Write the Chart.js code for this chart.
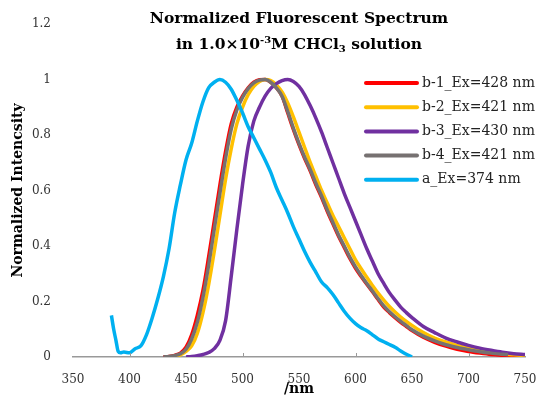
<!DOCTYPE html>
<html>
<head>
<meta charset="utf-8">
<script src="https://cdn.jsdelivr.net/npm/chart.js@4.4.1/dist/chart.umd.min.js"></script>
<style>
  html, body { margin: 0; padding: 0; background: #fff; }
  #wrap { width: 540px; height: 398px; }
</style>
</head>
<body>
<div id="wrap"><canvas id="Graph_Spectrum" width="540" height="398"></canvas></div>
<script>
// wavelengths (nm) and normalized intensities
var wl_b1 = [430,435,440,445,450,455,460,465,470,475,480,485,490,495,500,505,510,515,520,525,530,535,540,545,550,555,560,565,570,575,580,585,590,595,600,605,610,615,620,625,630,635,640,645,650,660,670,680,690,700,710,720,730,740,750];
var int_b1 = [0,0.002,0.006,0.014,0.035,0.08,0.15,0.24,0.36,0.49,0.62,0.74,0.84,0.9,0.94,0.97,0.99,0.999,1.0,0.99,0.97,0.94,0.88,0.82,0.765,0.715,0.67,0.62,0.575,0.525,0.48,0.435,0.395,0.355,0.32,0.29,0.262,0.235,0.207,0.18,0.16,0.142,0.125,0.11,0.095,0.071,0.053,0.039,0.028,0.02,0.014,0.009,0.006,0.004,0.002];

var wl_b2 = [435,440,445,450,455,460,465,470,475,480,485,490,495,500,505,510,515,520,525,530,535,540,545,550,555,560,565,570,575,580,585,590,595,600,605,610,615,620,625,630,635,640,645,650,660,670,680,690,700,710,720,730,740,750];
var int_b2 = [0,0.002,0.008,0.02,0.04,0.085,0.16,0.26,0.38,0.51,0.64,0.75,0.84,0.9,0.945,0.975,0.993,1.0,0.996,0.98,0.955,0.915,0.865,0.81,0.755,0.70,0.65,0.60,0.555,0.51,0.47,0.43,0.39,0.35,0.318,0.287,0.258,0.23,0.205,0.182,0.162,0.144,0.128,0.114,0.088,0.068,0.054,0.042,0.032,0.024,0.017,0.012,0.008,0.006];

var wl_b3 = [450,455,460,465,470,475,480,485,490,495,500,505,510,515,520,525,530,535,540,545,550,555,560,565,570,575,580,585,590,595,600,605,610,615,620,625,630,635,640,645,650,660,670,680,690,700,710,720,730,740,750];
var int_b3 = [0,0.002,0.005,0.009,0.016,0.03,0.06,0.13,0.29,0.46,0.62,0.76,0.85,0.9,0.94,0.968,0.985,0.996,1.0,0.993,0.975,0.945,0.905,0.86,0.81,0.755,0.70,0.645,0.59,0.54,0.49,0.44,0.39,0.345,0.30,0.265,0.232,0.205,0.18,0.16,0.142,0.11,0.088,0.068,0.054,0.042,0.032,0.024,0.017,0.012,0.009];

var wl_b4 = [430,435,440,445,450,455,460,465,470,475,480,485,490,495,500,505,510,515,520,525,530,535,540,545,550,555,560,565,570,575,580,585,590,595,600,605,610,615,620,625,630,635,640,645,650,660,670,680,690,700,710,720,730,735];
var int_b4 = [0,0.002,0.005,0.012,0.028,0.065,0.125,0.215,0.33,0.46,0.59,0.715,0.82,0.89,0.935,0.967,0.988,0.998,1.0,0.99,0.97,0.94,0.885,0.825,0.77,0.72,0.675,0.625,0.58,0.53,0.485,0.44,0.4,0.36,0.325,0.294,0.265,0.238,0.21,0.184,0.163,0.145,0.128,0.113,0.098,0.075,0.058,0.044,0.034,0.026,0.019,0.014,0.01,0.009];

var wl_a = [384,386,388,390,392,395,400,405,410,415,420,425,430,435,440,445,450,455,460,465,470,475,480,485,490,495,500,505,510,515,520,525,530,535,540,545,550,555,560,565,570,575,580,585,590,595,600,605,610,615,620,625,630,635,640,645,650];
var int_a = [0.15,0.10,0.06,0.02,0.015,0.018,0.015,0.03,0.04,0.08,0.14,0.21,0.29,0.39,0.52,0.62,0.71,0.77,0.85,0.92,0.97,0.99,1.0,0.99,0.965,0.925,0.88,0.83,0.79,0.75,0.71,0.665,0.61,0.565,0.52,0.47,0.425,0.38,0.34,0.305,0.27,0.25,0.225,0.195,0.165,0.14,0.12,0.105,0.095,0.08,0.065,0.055,0.045,0.035,0.022,0.01,0];

var seriesLabels = ["b-1_Ex=428 nm", "b-2_Ex=421 nm", "b-3_Ex=430 nm", "b-4_Ex=421 nm", "a_Ex=374 nm"];
var seriesColors = ["#FF0000", "#FFC000", "#7030A0", "#767171", "#00B0F0"];
var seriesX = [wl_b1, wl_b2, wl_b3, wl_b4, wl_a];
var seriesY = [int_b1, int_b2, int_b3, int_b4, int_a];

var xTickMarks = [400, 500, 600, 700];
var titleLine1 = "Normalized Fluorescent Spectrum";
// second title line: [text, 0 normal / 1 superscript / -1 subscript]
var titleLine2 = [["in 1.0\u00d710", 0], ["-3", 1], ["M CHCl", 0], ["3", -1], [" solution", 0]];

var serif = "'DejaVu Serif', 'Liberation Serif', serif";

function makePoints(xs, ys) {
    var pts = [];
    for (var i = 0; i < xs.length; i++) {
        pts.push({ x: xs[i], y: ys[i] });
    }
    return pts;
}

var datasets = [];
for (var i = 0; i < seriesLabels.length; i++) {
    datasets.push({
        label: seriesLabels[i],
        data: makePoints(seriesX[i], seriesY[i]),
        borderColor: seriesColors[i],
        backgroundColor: seriesColors[i],
        borderWidth: 3.5,
        pointRadius: 0,
        showLine: true,
        cubicInterpolationMode: "monotone",
        order: seriesLabels.length - i   // later series drawn on top, like the original
    });
}

var bigFont = "bold 15.5px " + serif;
var smallFont = "bold 10px " + serif;

function drawRichLine(ctx, parts, cx, y) {
    var total = 0;
    parts.forEach(function (p) {
        ctx.font = p[1] === 0 ? bigFont : smallFont;
        total += ctx.measureText(p[0]).width;
    });
    var x = cx - total / 2;
    parts.forEach(function (p) {
        ctx.font = p[1] === 0 ? bigFont : smallFont;
        var dy = p[1] === 1 ? -5 : (p[1] === -1 ? 4 : 0);
        ctx.fillText(p[0], x, y + dy);
        x += ctx.measureText(p[0]).width;
    });
}

// title inside the plot, inner tick marks and the legend box on the right
var extrasPlugin = {
    id: "extras",
    afterDraw: function (chart) {
        var ctx = chart.ctx;
        var ca = chart.chartArea;
        var xs = chart.scales.x;
        ctx.save();

        ctx.strokeStyle = "#999999";
        ctx.lineWidth = 1;
        xTickMarks.forEach(function (v) {
            var px = Math.round(xs.getPixelForValue(v)) + 0.5;
            ctx.beginPath();
            ctx.moveTo(px, ca.bottom);
            ctx.lineTo(px, ca.bottom - 4);
            ctx.stroke();
        });

        ctx.fillStyle = "#000";
        ctx.textAlign = "center";
        ctx.textBaseline = "middle";
        ctx.font = bigFont;
        var cx = (ca.left + ca.right) / 2;
        ctx.fillText(titleLine1, cx, 19);
        ctx.textAlign = "left";
        drawRichLine(ctx, titleLine2, cx, 45);

        ctx.font = "14px " + serif;
        for (var i = 0; i < chart.data.datasets.length; i++) {
            var ds = chart.data.datasets[i];
            var ly = 83 + i * 24.2;
            ctx.strokeStyle = ds.borderColor;
            ctx.lineWidth = 4;
            ctx.lineCap = "round";
            ctx.beginPath();
            ctx.moveTo(366, ly);
            ctx.lineTo(417, ly);
            ctx.stroke();
            ctx.fillStyle = "#222";
            ctx.fillText(ds.label, 422, ly);
        }
        ctx.restore();
    }
};

var ctx = document.getElementById("Graph_Spectrum").getContext("2d");
var graph = new Chart(ctx, {
    type: "scatter",
    data: { datasets: datasets },
    options: {
        responsive: false,
        animation: false,
        layout: { padding: { top: 24, right: 15, left: 0, bottom: 0 } },
        plugins: {
            legend: { display: false },
            tooltip: { enabled: false },
            title: { display: false }
        },
        scales: {
            x: {
                type: "linear",
                min: 350,
                max: 750,
                afterFit: function (s) {
                    s.height = 41;
                    s.paddingLeft = 0;
                    s.paddingRight = 0;
                },
                ticks: {
                    stepSize: 50,
                    padding: 16,
                    color: "#333",
                    font: { family: serif, size: 12 }
                },
                grid: { display: false, drawTicks: false },
                border: { display: true, color: "#999999", width: 1.5 },
                title: {
                    display: true,
                    text: "/nm",
                    color: "#000",
                    padding: { top: 0, bottom: 0 },
                    font: { family: serif, size: 14, weight: "bold" }
                }
            },
            y: {
                min: 0,
                max: 1.2,
                afterFit: function (s) {
                    s.width = 73;
                    s.paddingTop = 0;
                    s.paddingBottom = 0;
                },
                ticks: {
                    stepSize: 0.2,
                    padding: 22,
                    color: "#333",
                    font: { family: serif, size: 12 },
                    callback: function (v) { return String(Number(v.toFixed(1))); }
                },
                grid: { display: false, drawTicks: false },
                border: { display: false },
                title: {
                    display: true,
                    text: "Normalized Intencsity",
                    color: "#000",
                    padding: { top: 10, bottom: 0 },
                    font: { family: serif, size: 14, weight: "bold" }
                }
            }
        }
    },
    plugins: [extrasPlugin]
});
</script>
</body>
</html>
